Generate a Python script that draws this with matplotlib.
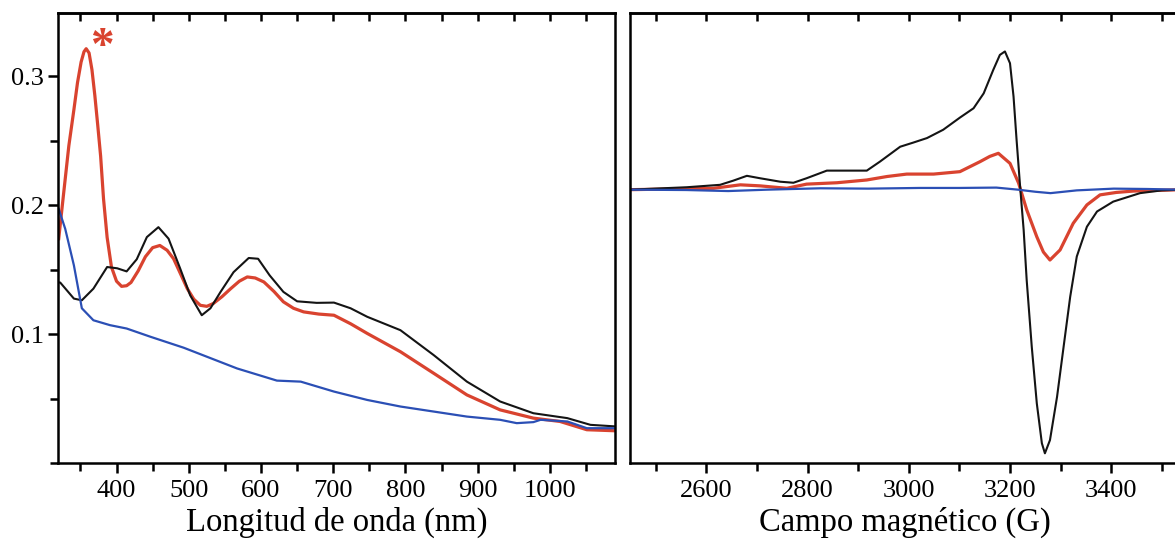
import numpy as np
import matplotlib.pyplot as plt
from matplotlib.ticker import MultipleLocator

plt.rcParams['font.family'] = ['Liberation Serif', 'DejaVu Serif']

# UV-vis (left panel): wavelength (nm) vs absorbance
wl_black = [320, 322, 341, 352, 368, 387, 401, 414, 428, 442, 458, 472, 488, 502, 518, 530, 544,
            562, 583, 596, 612, 631, 650, 677, 701, 724, 747, 793, 839, 885, 931, 977, 1024, 1056, 1090]
abs_black = [0.140, 0.140, 0.1275, 0.1262, 0.1352, 0.152, 0.151, 0.1486, 0.158, 0.1752, 0.1829, 0.174,
             0.151, 0.130, 0.1146, 0.120, 0.1327, 0.148, 0.159, 0.1584, 0.1455, 0.1327, 0.1254, 0.1242,
             0.1244, 0.120, 0.1134, 0.103, 0.0837, 0.0631, 0.0477, 0.0386, 0.0348, 0.0296, 0.0284]

wl_red = [320, 326, 334, 341, 346, 351, 355, 358, 362, 366, 370, 374, 378, 382, 387, 393, 400, 407,
          414, 420, 430, 440, 450, 460, 470, 479, 490, 498, 507, 516, 525, 534, 546, 558, 570, 581,
          592, 604, 618, 631, 645, 659, 680, 701, 724, 747, 793, 839, 885, 931, 977, 1014, 1051, 1090]
abs_red = [0.174, 0.205, 0.246, 0.274, 0.295, 0.311, 0.319, 0.3213, 0.318, 0.305, 0.285, 0.262, 0.238,
           0.205, 0.175, 0.152, 0.141, 0.137, 0.1375, 0.140, 0.149, 0.160, 0.167, 0.1687, 0.165, 0.1584,
           0.145, 0.1352, 0.127, 0.1223, 0.1215, 0.1237, 0.129, 0.1352, 0.141, 0.1443, 0.1435, 0.1404,
           0.133, 0.125, 0.120, 0.1172, 0.1155, 0.1146, 0.108, 0.1005, 0.0863, 0.0696, 0.0528, 0.0412,
           0.0348, 0.0322, 0.0258, 0.025]

wl_blue = [320, 329, 341, 352, 368, 391, 414, 447, 493, 567, 622, 655, 701, 747, 793, 839, 885, 931,
           954, 977, 987, 1024, 1051, 1090]
abs_blue = [0.197, 0.1816, 0.1533, 0.120, 0.1107, 0.1069, 0.1043, 0.0979, 0.0894, 0.0733, 0.0639,
            0.0631, 0.0554, 0.0489, 0.0438, 0.0399, 0.036, 0.0335, 0.0309, 0.0317, 0.0335, 0.0322,
            0.027, 0.027]

# EPR (right panel): field (G) vs signal (arb. units)
b_black = [2449, 2561, 2627, 2653, 2680, 2706, 2746, 2772, 2798, 2838, 2877, 2917, 2943, 2983, 3009,
           3036, 3068, 3101, 3128, 3148, 3167, 3180, 3190, 3200, 3207, 3213, 3220, 3227, 3233, 3243,
           3253, 3263, 3269, 3279, 3293, 3306, 3319, 3332, 3352, 3372, 3404, 3457, 3500, 3540]
s_black = [0.0, 0.07, 0.14, 0.26, 0.40, 0.33, 0.23, 0.20, 0.33, 0.55, 0.55, 0.55, 0.81, 1.24, 1.36,
           1.49, 1.73, 2.08, 2.35, 2.78, 3.46, 3.89, 3.99, 3.65, 2.69, 1.44, 0.09, -1.16, -2.61, -4.53,
           -6.17, -7.32, -7.61, -7.23, -5.98, -4.53, -3.09, -1.93, -1.07, -0.63, -0.345, -0.10, -0.02, 0.0]

b_red = [2449, 2614, 2667, 2706, 2759, 2798, 2858, 2917, 2957, 2996, 3049, 3101, 3141, 3160, 3177,
         3200, 3217, 3233, 3253, 3266, 3279, 3299, 3325, 3352, 3378, 3410, 3444, 3540]
s_red = [0.0, 0.04, 0.14, 0.11, 0.04, 0.16, 0.20, 0.28, 0.38, 0.45, 0.45, 0.52, 0.81, 0.96, 1.05,
         0.76, 0.19, -0.58, -1.36, -1.80, -2.03, -1.74, -0.97, -0.44, -0.15, -0.08, -0.04, 0.0]

b_blue = [2449, 2560, 2643, 2720, 2825, 2920, 3022, 3100, 3173, 3216, 3250, 3280, 3332, 3405, 3470, 3540]
s_blue = [0.0, -0.01, -0.04, 0.0, 0.04, 0.03, 0.05, 0.05, 0.06, 0.0, -0.06, -0.10, -0.02, 0.03, 0.02, 0.0]

c_black = '#141414'
c_red = '#d9432f'
c_blue = '#2b4fb5'

fig = plt.figure(figsize=(11.75, 5.43), dpi=100)
ax1 = fig.add_axes([58 / 1175, 1 - 463 / 543, 557 / 1175, 450 / 543])
ax2 = fig.add_axes([630 / 1175, 1 - 463 / 543, 550 / 1175, 450 / 543])

ax1.plot(wl_red, abs_red, color=c_red, lw=2.3)
ax1.plot(wl_black, abs_black, color=c_black, lw=1.5)
ax1.plot(wl_blue, abs_blue, color=c_blue, lw=1.6)
ax1.text(380, 0.3215, '*', color=c_red, fontsize=34, fontweight='bold', ha='center', va='center')
ax1.set_xlim(319, 1090)
ax1.set_ylim(0.0, 0.349)
ax1.xaxis.set_major_locator(MultipleLocator(100))
ax1.xaxis.set_minor_locator(MultipleLocator(50))
ax1.yaxis.set_minor_locator(MultipleLocator(0.05))
ax1.set_yticks([0.1, 0.2, 0.3])
ax1.set_xlabel('Longitud de onda (nm)', fontsize=23.5, labelpad=4)

ax2.plot(b_red, s_red, color=c_red, lw=2.3)
ax2.plot(b_black, s_black, color=c_black, lw=1.5)
ax2.plot(b_blue, s_blue, color=c_blue, lw=1.6)
ax2.set_xlim(2449, 3536)
ax2.set_ylim(-7.89, 5.10)
ax2.xaxis.set_major_locator(MultipleLocator(200))
ax2.xaxis.set_minor_locator(MultipleLocator(100))
ax2.set_yticks([])
ax2.set_xlabel('Campo magnético (G)', fontsize=23.5, labelpad=4)

for ax in (ax1, ax2):
    for sp in ax.spines.values():
        sp.set_linewidth(1.8)
    ax.tick_params(axis='x', which='both', direction='out', bottom=True, top=False,
                   labelsize=19, width=1.8, pad=5)
    ax.tick_params(axis='x', which='major', length=7)
    ax.tick_params(axis='x', which='minor', length=6)
    # inward ticks on the top edge via a secondary axis
    top = ax.secondary_xaxis('top')
    top.xaxis.set_major_locator(ax.xaxis.get_major_locator())
    top.xaxis.set_minor_locator(ax.xaxis.get_minor_locator())
    top.tick_params(which='both', direction='in', length=6, width=1.8, labeltop=False)
    top.spines['top'].set_linewidth(1.8)

ax1.tick_params(axis='y', which='both', direction='out', labelsize=19, width=1.8, pad=3)
ax1.tick_params(axis='y', which='major', length=7)
ax1.tick_params(axis='y', which='minor', length=6)

fig.savefig('out.png', dpi=100)
